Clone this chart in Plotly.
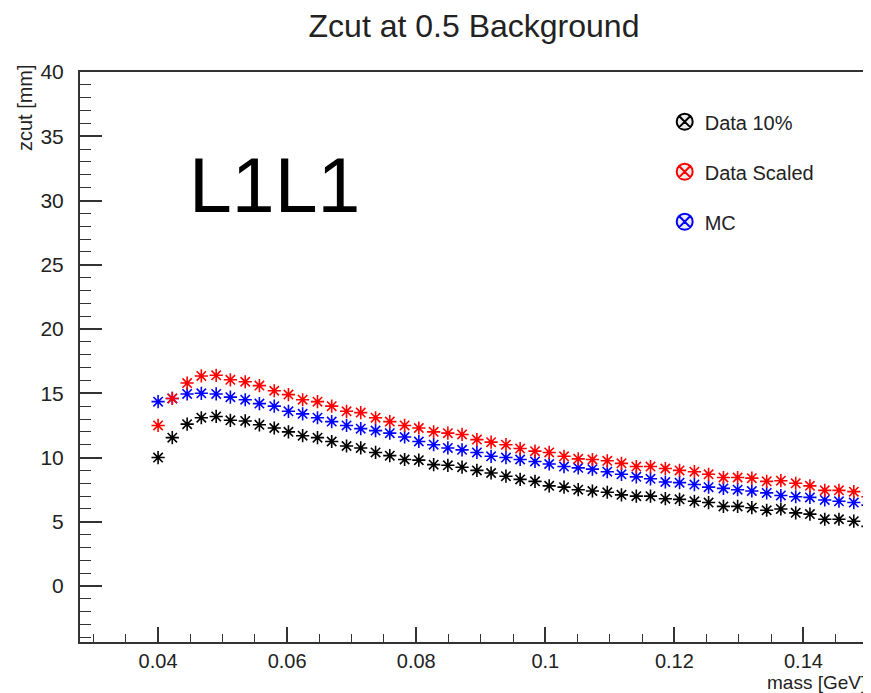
"""Zcut at 0.5 background vs mass, L1L1 (Plotly re-draw of a ROOT canvas)."""

import plotly.graph_objects as go

# mass points [GeV]
mass = [
    0.0400, 0.0422, 0.0445, 0.0467, 0.0490, 0.0512, 0.0535, 0.0557, 0.0580, 0.0602,
    0.0624, 0.0647, 0.0669, 0.0692, 0.0714, 0.0737, 0.0759, 0.0782, 0.0804, 0.0827,
    0.0849, 0.0871, 0.0894, 0.0916, 0.0939, 0.0961, 0.0984, 0.1006, 0.1029, 0.1051,
    0.1073, 0.1096, 0.1118, 0.1141, 0.1163, 0.1186, 0.1208, 0.1231, 0.1253, 0.1276,
    0.1298, 0.1320, 0.1343, 0.1365, 0.1388, 0.1410, 0.1433, 0.1455, 0.1478, 0.1500,
]

# zcut [mm]
zcut_data10 = [
    10.0, 11.55, 12.6, 13.1, 13.2, 12.9, 12.85, 12.55, 12.3, 12.0,
    11.7, 11.55, 11.25, 10.9, 10.75, 10.4, 10.15, 9.85, 9.8, 9.45,
    9.4, 9.25, 9.0, 8.8, 8.55, 8.3, 8.15, 7.8, 7.7, 7.5,
    7.4, 7.3, 7.1, 7.0, 7.0, 6.8, 6.75, 6.6, 6.5, 6.2,
    6.2, 6.1, 5.9, 6.0, 5.7, 5.6, 5.2, 5.2, 5.05, 4.65,
]
zcut_scaled = [
    12.5, 14.6, 15.8, 16.35, 16.4, 16.05, 15.9, 15.6, 15.2, 14.9,
    14.5, 14.35, 14.0, 13.6, 13.5, 13.1, 12.8, 12.5, 12.3, 12.0,
    11.9, 11.8, 11.4, 11.2, 11.0, 10.7, 10.5, 10.4, 10.1, 9.9,
    9.85, 9.75, 9.55, 9.3, 9.3, 9.15, 9.0, 8.9, 8.7, 8.45,
    8.45, 8.4, 8.15, 8.2, 8.0, 7.8, 7.45, 7.45, 7.35, 6.95,
]
zcut_mc = [
    14.35, 14.6, 14.95, 15.0, 14.95, 14.7, 14.5, 14.2, 14.0, 13.6,
    13.4, 13.1, 12.8, 12.5, 12.25, 12.1, 11.9, 11.6, 11.25, 11.0,
    10.75, 10.6, 10.4, 10.1, 10.0, 9.85, 9.7, 9.5, 9.3, 9.2,
    9.1, 8.9, 8.7, 8.5, 8.35, 8.1, 8.05, 7.9, 7.7, 7.6,
    7.5, 7.4, 7.25, 7.05, 6.95, 6.9, 6.7, 6.6, 6.5, 6.3,
]

x_tickvals = [0.04, 0.06, 0.08, 0.10, 0.12, 0.14]
x_ticktext = ["0.04", "0.06", "0.08", "0.1", "0.12", "0.14"]
y_tickvals = [0, 5, 10, 15, 20, 25, 30, 35, 40]
y_ticktext = ["0", "5", "10", "15", "20", "25", "30", "35", "40"]

FONT = "Liberation Sans, Arial, Helvetica, sans-serif"
TXT = "#222222"
AX = "#333333"

# the page body keeps its default 8px margin, so the figure is 8px smaller
W, H = 863, 685

fig = go.Figure()

# draw order as on the canvas: black, blue, red on top
series = [
    ("Data 10%", zcut_data10, "#000000"),
    ("MC", zcut_mc, "#0000ff"),
    ("Data Scaled", zcut_scaled, "#ff0000"),
]
for name, ys, col in series:
    fig.add_trace(
        go.Scatter(
            x=mass,
            y=ys,
            mode="markers",
            name=name,
            showlegend=False,
            marker=dict(symbol="asterisk-open", size=11, color=col,
                        line=dict(color=col, width=1.6)),
            cliponaxis=True,
        )
    )

# legend entries (ROOT-style circle-x glyphs)
for i, (name, col) in enumerate([("Data 10%", "#000000"), ("Data Scaled", "#ff0000"), ("MC", "#0000ff")]):
    fig.add_trace(
        go.Scatter(
            x=[None],
            y=[None],
            mode="markers",
            name=name,
            legendgroup=f"g{i}",
            marker=dict(symbol="circle-x", size=16, color="#ebebeb",
                        line=dict(color=col, width=2)),
        )
    )

fig.update_layout(
    width=W,
    height=H,
    paper_bgcolor="white",
    plot_bgcolor="white",
    font=dict(family=FONT, color=TXT),
    margin=dict(l=72, r=3, t=64, b=51),
    title=dict(
        text="Zcut at 0.5 Background",
        x=0.5,
        xref="paper",
        xanchor="center",
        y=1 - 18 / H,
        yanchor="middle",
        font=dict(size=32, family=FONT, color=TXT),
    ),
    legend=dict(
        x=0.742,
        y=0.947,
        xanchor="left",
        yanchor="top",
        bgcolor="rgba(255,255,255,0)",
        font=dict(size=20, family=FONT, color=TXT),
        tracegroupgap=21,
        itemsizing="trace",
    ),
    showlegend=True,
)

fig.update_xaxes(
    range=[0.0279, 0.15],
    tickvals=x_tickvals,
    ticktext=x_ticktext,
    ticks="inside",
    ticklen=15,
    tickwidth=1.5,
    tickcolor=AX,
    minor=dict(dtick=0.005, tick0=0, ticks="inside", ticklen=8, tickwidth=1.2, tickcolor=AX),
    showline=True,
    linecolor=AX,
    linewidth=2,
    mirror=True,
    showgrid=False,
    zeroline=False,
    automargin=False,
    tickfont=dict(size=20, family=FONT, color=TXT),
    ticklabelstandoff=0,
)
fig.update_yaxes(
    range=[-4.35, 40],
    tickvals=y_tickvals,
    ticktext=y_ticktext,
    ticks="inside",
    ticklen=22,
    tickwidth=1.5,
    tickcolor=AX,
    minor=dict(dtick=1, tick0=0, ticks="inside", ticklen=11, tickwidth=1.2, tickcolor=AX),
    showline=True,
    linecolor=AX,
    linewidth=2,
    mirror=True,
    showgrid=False,
    zeroline=False,
    automargin=False,
    tickfont=dict(size=21, family=FONT, color=TXT),
    ticklabelstandoff=10,
)

# axis titles placed ROOT-style (right / top aligned) and the pad label
fig.add_annotation(
    text="mass [GeV]", xref="paper", yref="paper", x=1, y=-0.071,
    xanchor="right", yanchor="middle", showarrow=False,
    font=dict(size=19, family=FONT, color=TXT),
)
fig.add_annotation(
    text="zcut [mm]", xref="paper", yref="paper", x=-0.07, y=1.018,
    xanchor="center", yanchor="top", textangle=-90, showarrow=False,
    font=dict(size=20, family=FONT, color=TXT),
)
fig.add_annotation(
    text="L1L1", xref="paper", yref="paper", x=0.136, y=0.802,
    xanchor="left", yanchor="middle", showarrow=False,
    font=dict(size=77, family=FONT, color="#000000"),
)

fig.write_html("out.html")
